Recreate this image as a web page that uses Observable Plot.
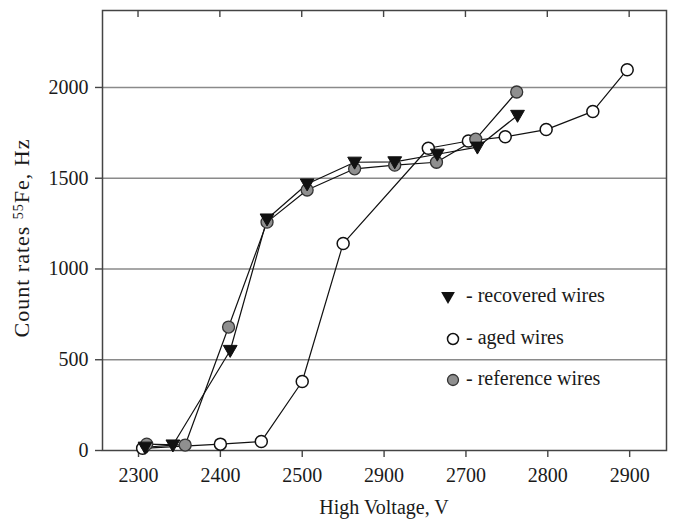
<!DOCTYPE html>
<html>
<head>
<meta charset="utf-8">
<script src="https://cdn.jsdelivr.net/npm/d3@7"></script>
<script src="https://cdn.jsdelivr.net/npm/@observablehq/plot@0.6"></script>
<style>
  html, body { margin: 0; padding: 0; background: #fff; }
  #chart { position: relative; width: 675px; height: 520px; }
</style>
</head>
<body>
<div id="chart"></div>
<script>
// ---- data ----
const xTicks = [2300, 2400, 2500, 2600, 2700, 2800, 2900];
const xTickLabels = ["2300", "2400", "2500", "2900", "2700", "2800", "2900"]; // as printed in the original
const yTicks = [0, 500, 1000, 1500, 2000];

const agedV    = [2305, 2400, 2450, 2500, 2550, 2654, 2703, 2748, 2798, 2855, 2897];
const agedRate = [12, 35, 50, 380, 1140, 1665, 1705, 1728, 1768, 1868, 2098];

const refV     = [2310, 2357, 2410, 2457, 2506, 2564, 2613, 2664, 2712, 2762];
const refRate  = [35, 30, 680, 1258, 1435, 1552, 1572, 1588, 1715, 1975];

const recV     = [2308, 2342, 2412, 2457, 2506, 2564, 2613, 2665, 2714, 2763];
const recRate  = [18, 30, 551, 1275, 1468, 1588, 1590, 1632, 1671, 1846];

const legendItems = ["- recovered wires", "- aged wires", "- reference wires"];

// ---- tables ----
const toRows = (xs, ys) => xs.map((v, i) => ({v, rate: ys[i]}));
const aged = toRows(agedV, agedRate);
const ref = toRows(refV, refRate);
const rec = toRows(recV, recRate);

const triangleDown = {
  draw(context, size) {
    const r = Math.sqrt(size / Math.PI);
    const w = r * 1.15, up = r * 0.85, down = r * 1.15;
    context.moveTo(-w, -up);
    context.lineTo(w, -up);
    context.lineTo(0, down);
    context.closePath();
  }
};

const W = 675, H = 520, mL = 102, mR = 9, mT = 10, mB = 70;
const FONT = "'Liberation Serif', 'Times New Roman', serif";
const FS = 20;

const chart = Plot.plot({
  width: W, height: H,
  marginLeft: mL, marginRight: mR, marginTop: mT, marginBottom: mB,
  style: {fontFamily: FONT, fontSize: FS + "px", color: "#1a1a1a", background: "#fff"},
  x: {domain: [2256, 2945]},
  y: {domain: [0, 2424]},
  marks: [
    Plot.ruleY(yTicks.filter(d => d > 0), {stroke: "#8a8a8a", strokeWidth: 1.6}),
    Plot.frame({stroke: "#444", strokeWidth: 1.5}),
    Plot.axisY({ticks: yTicks, tickSize: 7, tickPadding: 7, label: null, stroke: "#444", strokeWidth: 1.4,
      fontSize: FS, fill: "#1a1a1a", tickFormat: d => String(d)}),
    Plot.axisX({ticks: xTicks, tickSize: 7, tickPadding: 10, label: null, stroke: "#444", strokeWidth: 1.4,
      fontSize: FS, fill: "#1a1a1a", tickFormat: d => xTickLabels[xTicks.indexOf(d)]}),
    Plot.line(aged, {x: "v", y: "rate", stroke: "#111", strokeWidth: 1.2}),
    Plot.line(ref, {x: "v", y: "rate", stroke: "#111", strokeWidth: 1.2}),
    Plot.line(rec, {x: "v", y: "rate", stroke: "#111", strokeWidth: 1.2}),
    Plot.dot(aged, {x: "v", y: "rate", r: 6, fill: "#fff", stroke: "#111", strokeWidth: 1.5}),
    Plot.dot(ref, {x: "v", y: "rate", r: 6, fill: "#8f8f8f", stroke: "#333", strokeWidth: 1.3}),
    Plot.dot(rec, {x: "v", y: "rate", r: 6, symbol: triangleDown, fill: "#111", stroke: "#111", strokeWidth: 1})
  ]
});

document.getElementById("chart").appendChild(chart);

const svg = d3.select(chart);
const xs = chart.scale("x");

// inward ticks on the top frame, placed with the plot's x scale
svg.append("g").attr("stroke", "#444").attr("stroke-width", 1.4)
  .selectAll("line").data(xTicks).join("line")
  .attr("x1", d => xs.apply(d)).attr("x2", d => xs.apply(d))
  .attr("y1", mT).attr("y2", mT + 7);

// y-axis title with superscript
const yt = svg.append("text")
  .attr("transform", `translate(29,238) rotate(-90)`)
  .attr("text-anchor", "middle")
  .attr("font-family", FONT).attr("font-size", 22).attr("letter-spacing", "1px").attr("fill", "#1a1a1a");
yt.append("tspan").text("Count rates ");
yt.append("tspan").attr("font-size", 14).attr("baseline-shift", "45%").text("55");
yt.append("tspan").text("Fe, Hz");

// x-axis title
svg.append("text")
  .attr("x", mL + (W - mL - mR) / 2).attr("y", H - 6)
  .attr("text-anchor", "middle")
  .attr("font-family", FONT).attr("font-size", FS).attr("fill", "#1a1a1a")
  .text("High Voltage, V");

// legend
const lg = svg.append("g").attr("font-family", FONT).attr("font-size", FS).attr("fill", "#1a1a1a")
  .attr("text-anchor", "start");
const rowsY = [297, 339, 380];
const sym = d3.path(); triangleDown.draw(sym, Math.PI * 36);
lg.append("path").attr("d", sym.toString()).attr("transform", `translate(448,${rowsY[0]})`).attr("fill", "#111");
lg.append("circle").attr("cx", 453).attr("cy", rowsY[1]).attr("r", 5.5).attr("fill", "#fff").attr("stroke", "#111").attr("stroke-width", 1.5);
lg.append("circle").attr("cx", 453).attr("cy", rowsY[2]).attr("r", 5.5).attr("fill", "#8f8f8f").attr("stroke", "#333").attr("stroke-width", 1.3);
legendItems.forEach((t, i) => {
  lg.append("text").attr("x", 466).attr("y", rowsY[i] + 5).attr("text-anchor", "start").text(t);
});
</script>
</body>
</html>
